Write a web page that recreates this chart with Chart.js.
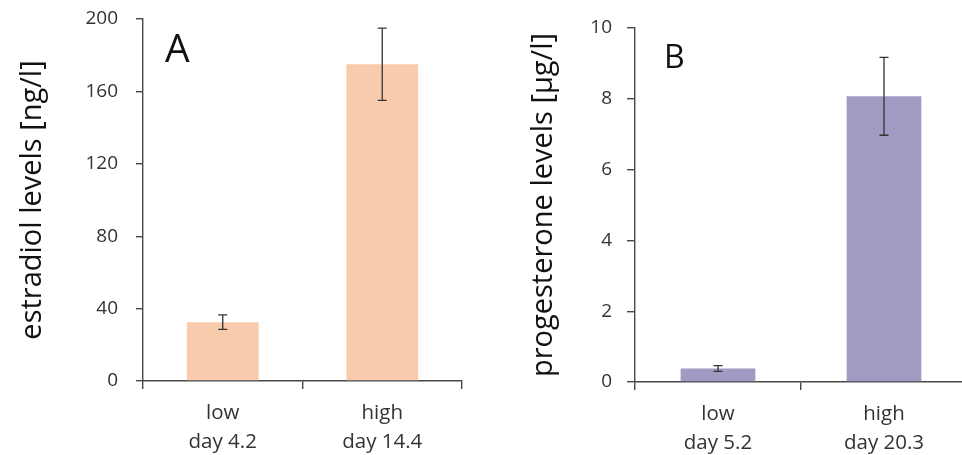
<!DOCTYPE html>
<html><head><meta charset="utf-8">
<script src="https://cdn.jsdelivr.net/npm/chart.js@4"></script>
<style>
html,body{margin:0;padding:0;background:#fff;overflow:hidden;width:962px;height:455px}
#wrap{position:relative;width:962px;height:455px;overflow:hidden}
.box{position:absolute;top:0;height:455px}
#boxA{left:0;width:480px}
#boxB{left:480px;width:490px}
</style></head><body>
<div id="wrap">
  <div class="box" id="boxA"><canvas id="chartA"></canvas></div>
  <div class="box" id="boxB"><canvas id="chartB"></canvas></div>
</div>
<script>
// panel A - estradiol
const labelsA = [['low', 'day 4.2'], ['high', 'day 14.4']];
const valuesA = [32.5, 175];
const errorsA = [4, 20];
const ticksA = [0, 40, 80, 120, 160, 200];

// panel B - progesterone
const labelsB = [['low', 'day 5.2'], ['high', 'day 20.3']];
const valuesB = [0.38, 8.07];
const errorsB = [0.08, 1.1];
const ticksB = [0, 2, 4, 6, 8, 10];

const FONT = '"Open Sans"';
const axisColor = '#484848';
const textColor = '#333';

const errorBars = {
  id: 'errorBars',
  afterDatasetsDraw(chart, args, opts){
    const ctx = chart.ctx, y = chart.scales.y;
    const meta = chart.getDatasetMeta(0);
    const vals = chart.data.datasets[0].data;
    ctx.save();
    ctx.strokeStyle = '#333';
    ctx.lineWidth = 1.3;
    meta.data.forEach((bar, i) => {
      const top = y.getPixelForValue(vals[i] + opts.errors[i]);
      const bot = y.getPixelForValue(vals[i] - opts.errors[i]);
      ctx.beginPath();
      ctx.moveTo(bar.x, top); ctx.lineTo(bar.x, bot);
      ctx.moveTo(bar.x - 4.5, top); ctx.lineTo(bar.x + 4.5, top);
      ctx.moveTo(bar.x - 4.5, bot); ctx.lineTo(bar.x + 4.5, bot);
      ctx.stroke();
    });
    ctx.restore();
  }
};

const panelLetter = {
  id: 'panelLetter',
  afterDraw(chart, args, opts){
    const ctx = chart.ctx, a = chart.chartArea;
    ctx.save();
    ctx.fillStyle = '#111';
    ctx.font = opts.size + 'px ' + FONT;
    ctx.textBaseline = 'alphabetic';
    ctx.fillText(opts.text, a.left + opts.dx, a.top + opts.dy);
    ctx.restore();
  }
};

function makeChart(id, cfg){
  return new Chart(document.getElementById(id), {
    type: 'bar',
    data: {
      labels: cfg.labels,
      datasets: [{ data: cfg.values, backgroundColor: cfg.color, borderWidth: 0,
                   barPercentage: 0.45, categoryPercentage: 1 }]
    },
    plugins: [errorBars, panelLetter],
    options: {
      responsive: true,
      maintainAspectRatio: false,
      animation: false,
      layout: { padding: cfg.padding },
      plugins: {
        legend: { display: false },
        tooltip: { enabled: false },
        errorBars: { errors: cfg.errors },
        panelLetter: cfg.letter
      },
      scales: {
        x: {
          afterFit: s => { s.height = cfg.xHeight; s.paddingLeft = 0; s.paddingRight = 0; },
          grid: { offset: true, drawOnChartArea: false, tickLength: 8, color: axisColor, lineWidth: 1.4 },
          border: { color: axisColor, width: 1.4 },
          ticks: { color: textColor, font: { family: FONT, size: 20.5, lineHeight: 1.4 }, padding: 10 }
        },
        y: {
          min: 0, max: cfg.ticks[cfg.ticks.length - 1],
          afterFit: s => { s.width = cfg.yWidth; s.paddingTop = 0; s.paddingBottom = 0; },
          afterBuildTicks: s => { s.ticks = cfg.ticks.map(v => ({ value: v })); },
          grid: { drawOnChartArea: false, tickLength: cfg.tickLen, color: axisColor, lineWidth: 1.4 },
          border: { color: axisColor, width: 1.4 },
          ticks: { color: textColor, font: { family: FONT, size: 19 }, padding: cfg.tickPad },
          title: { display: true, text: cfg.title, color: '#111',
                   font: { family: FONT, size: 29 }, padding: { top: cfg.titlePad, bottom: 0 } }
        }
      }
    }
  });
}

makeChart('chartA', {
  labels: labelsA, values: valuesA, errors: errorsA, ticks: ticksA,
  color: '#F8CBAD', title: 'estradiol levels [ng/l]',
  padding: { top: 19, right: 18, left: 0, bottom: 0 },
  xHeight: 74, yWidth: 143, tickLen: 7, tickPad: 18, titlePad: 15,
  letter: { text: 'A', size: 39, dx: 22, dy: 43 }
});

makeChart('chartB', {
  labels: labelsB, values: valuesB, errors: errorsB, ticks: ticksB,
  color: '#A29AC2', title: 'progesterone levels [µg/l]',
  padding: { top: 28, right: 3, left: 0, bottom: 0 },
  xHeight: 73, yWidth: 155, tickLen: 8, tickPad: 15, titlePad: 46,
  letter: { text: 'B', size: 32, dx: 29, dy: 40 }
});
</script>
</body></html>
